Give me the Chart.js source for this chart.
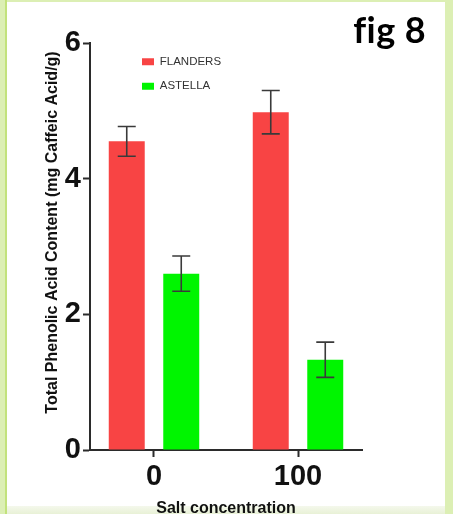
<!DOCTYPE html>
<html>
<head>
<meta charset="utf-8">
<script src="https://cdn.jsdelivr.net/npm/chart.js@4.4.0/dist/chart.umd.min.js"></script>
<style>
html, body { margin: 0; padding: 0; }
body { width: 453px; height: 514px; position: relative; overflow: hidden; background: #dcefb4; }
#edge { position: absolute; left: 5px; top: 0; width: 2px; height: 514px; background: #c2e27c; }
#paper { position: absolute; left: 7px; top: 2px; width: 438px; height: 504px; background: #fff; }
#foot { position: absolute; left: 7px; top: 506px; width: 438px; height: 8px; background: linear-gradient(#f4f8ec, #e8f1d6); }
#myChart { position: absolute; left: 0; top: 0; }
</style>
</head>
<body>
<div id="edge"></div><div id="paper"></div><div id="foot"></div>
<canvas id="myChart" width="453" height="514"></canvas>
<script>
var salt = [0, 100];
var flanders = [4.55, 4.98];
var flandersErr = [0.22, 0.32];
var astella = [2.6, 1.33];
var astellaErr = [0.26, 0.26];
var yTicks = [0, 2, 4, 6];

Chart.defaults.font.family = "'Liberation Sans', Arial, sans-serif";

// error bars drawn on top of each bar
var errorBars = {
    id: 'errorBars',
    afterDatasetsDraw: function (chart) {
        var c = chart.ctx, y = chart.scales.y;
        chart.data.datasets.forEach(function (ds, i) {
            chart.getDatasetMeta(i).data.forEach(function (bar, j) {
                var top = y.getPixelForValue(ds.data[j] + ds.errors[j]);
                var bot = y.getPixelForValue(ds.data[j] - ds.errors[j]);
                c.save();
                c.strokeStyle = '#3a3a3a';
                c.lineWidth = 1.6;
                c.beginPath();
                c.moveTo(bar.x, top); c.lineTo(bar.x, bot);
                c.moveTo(bar.x - 9, top); c.lineTo(bar.x + 9, top);
                c.moveTo(bar.x - 9, bot); c.lineTo(bar.x + 9, bot);
                c.stroke();
                c.restore();
            });
        });
    }
};

// figure label and y axis title
var texts = {
    id: 'texts',
    afterDraw: function (chart) {
        var c = chart.ctx;
        c.save();
        c.fillStyle = '#000';
        c.font = "bold 36px Lato, 'Open Sans', sans-serif";
        c.letterSpacing = '0.4px';
        c.textAlign = 'right';
        c.textBaseline = 'alphabetic';
        c.fillText('fig 8', 426, 43);
        c.letterSpacing = '0px';
        c.fillStyle = '#111';
        c.font = "bold 16px 'Liberation Sans', Arial, sans-serif";
        c.translate(56.5, 232.5);
        c.rotate(-Math.PI / 2);
        c.textAlign = 'center';
        c.fillText('Total Phenolic Acid Content (mg Caffeic Acid/g)', 0, 0);
        c.restore();
    }
};

// move the legend inside the plot
var legendShift = {
    id: 'legendShift',
    afterLayout: function (chart) {
        chart.legend.left = chart.chartArea.left + 39;
        chart.legend.top = chart.chartArea.top;
    }
};

var ctx = document.getElementById("myChart").getContext("2d");
var myBarChart = new Chart(ctx, {
    type: 'bar',
    data: {
        labels: salt,
        datasets: [
            {
                label: "FLANDERS",
                data: flanders,
                errors: flandersErr,
                backgroundColor: "#f84444",
                borderWidth: 0
            },
            {
                label: "ASTELLA",
                data: astella,
                errors: astellaErr,
                backgroundColor: "#00f500",
                borderWidth: 0
            }
        ]
    },
    options: {
        responsive: false,
        animation: false,
        categoryPercentage: 0.757,
        barPercentage: 0.66,
        layout: { padding: { left: 0, top: 43, right: 91, bottom: 0 } },
        plugins: {
            legend: {
                position: 'chartArea',
                align: 'start',
                labels: {
                    boxWidth: 12,
                    boxHeight: 7,
                    padding: 13,
                    color: '#333',
                    font: { size: 11.5 }
                }
            },
            tooltip: { enabled: false }
        },
        scales: {
            x: {
                type: 'linear',
                min: -44.44,
                max: 144.44,
                offset: false,
                afterBuildTicks: function (s) {
                    s.ticks = salt.map(function (v) { return { value: v }; });
                },
                afterFit: function (s) { s.height = 64; },
                grid: { display: true, offset: false, drawOnChartArea: false, tickLength: 7, tickColor: '#2b2b2b', tickWidth: 2 },
                border: { display: true, color: '#2b2b2b', width: 2 },
                ticks: { color: '#111', padding: 3, font: { size: 29, weight: 'bold' } },
                title: {
                    display: true,
                    text: 'Salt concentration',
                    color: '#111',
                    padding: { top: 0, bottom: -3 },
                    font: { size: 16, weight: 'bold', lineHeight: 1 }
                }
            },
            y: {
                min: 0,
                max: 6,
                afterBuildTicks: function (s) {
                    s.ticks = yTicks.map(function (v) { return { value: v }; });
                },
                afterFit: function (s) { s.width = 90; },
                grid: { display: true, drawOnChartArea: false, tickLength: 7, tickColor: '#2b2b2b', tickWidth: 2 },
                border: { display: true, color: '#2b2b2b', width: 2 },
                ticks: { color: '#111', padding: 2, font: { size: 29, weight: 'bold' } }
            }
        }
    },
    plugins: [errorBars, texts, legendShift]
});
</script>
</body>
</html>
